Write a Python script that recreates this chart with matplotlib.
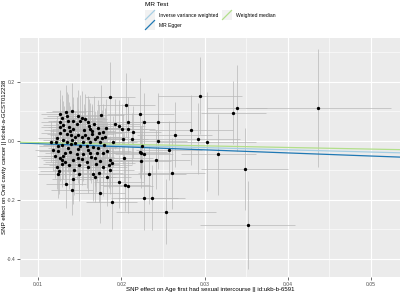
import matplotlib
matplotlib.use("Agg")
import matplotlib.pyplot as plt
from matplotlib.lines import Line2D
from matplotlib.patches import Rectangle
import numpy as np

plt.rcParams['font.family'] = ['Liberation Sans', 'DejaVu Sans']

# SNP effects on exposure (x) and outcome (y), with standard errors
beta_exp = [
    0.01865, 0.02053, 0.02231, 0.01751, 0.02946, 0.03394, 0.03346, 0.04367, 0.03027, 0.03166,
    0.03483, 0.03519, 0.01885, 0.01745, 0.02277, 0.02366, 0.02538, 0.02606, 0.02333, 0.01977,
    0.02049, 0.02081, 0.01405, 0.01333, 0.01496, 0.01657, 0.01679, 0.01249, 0.01244, 0.01417,
    0.02423, 0.02838, 0.02643, 0.02924, 0.02574, 0.02277, 0.02241, 0.02237, 0.02039, 0.02279,
    0.02438, 0.02084, 0.01921, 0.01975, 0.02015, 0.02083, 0.02147, 0.02023, 0.02135, 0.02439,
    0.01897, 0.02246, 0.02222, 0.01883, 0.01865, 0.01847, 0.01865,
    0.01333, 0.01414, 0.01270, 0.01477, 0.01532, 0.01564, 0.01364, 0.01426, 0.01264, 0.01297,
    0.01376, 0.01472, 0.01613, 0.01625, 0.01724, 0.01316, 0.01424, 0.01784, 0.01264, 0.01345,
    0.01393, 0.01444, 0.01484, 0.01525, 0.01564, 0.01597, 0.01645, 0.01685, 0.01705, 0.01765,
    0.01805, 0.01225, 0.01304, 0.01405, 0.01544, 0.01216, 0.01745, 0.01261,
    0.01156, 0.01285, 0.01345, 0.01396, 0.01444, 0.01505, 0.01585, 0.01625, 0.01664, 0.01184,
    0.01244, 0.01324, 0.01384, 0.01465, 0.01544, 0.01625, 0.01705, 0.01784, 0.01204, 0.01264,
    0.01324, 0.01424, 0.01525, 0.01585, 0.01685, 0.01745, 0.01432, 0.01736, 0.01225, 0.01496,
    0.01784, 0.01825, 0.01285,
    0.01288, 0.01348, 0.01505, 0.01601, 0.01673, 0.01384, 0.01553, 0.01649, 0.01733, 0.01817,
    0.01240, 0.01360, 0.01480, 0.01600, 0.01721, 0.01793, 0.01300, 0.01480, 0.01637, 0.01829,
    0.01372, 0.01600, 0.01697, 0.01288,
]
beta_out = [
    0.148, 0.122, 0.092, 0.089, 0.154, 0.112, 0.096, 0.112, -0.002, -0.045,
    -0.095, -0.285, -0.208, -0.178, -0.192, -0.192, -0.240, -0.110, -0.113, -0.138,
    -0.149, -0.153, -0.166, -0.146, -0.112, -0.113, -0.122, -0.101, -0.111, -0.129,
    -0.064, 0.037, 0.021, 0.008, -0.031, -0.045, -0.040, -0.069, -0.056, 0.063,
    0.063, 0.064, 0.057, 0.052, 0.041, 0.042, 0.031, 0.008, 0.008, 0.001,
    -0.002, -0.017, -0.036, -0.076, -0.098, -0.080, -0.064,
    0.099, 0.103, 0.092, 0.085, 0.077, 0.074, 0.069, 0.068, 0.065, 0.054,
    0.048, 0.058, 0.051, 0.041, 0.043, 0.037, 0.040, 0.032, 0.026, 0.023,
    0.020, 0.015, 0.020, 0.015, 0.020, 0.011, 0.023, 0.007, 0.015, 0.009,
    0.015, 0.011, 0.003, 0.003, -0.002, -0.002, -0.004, 0.046,
    -0.002, -0.014, -0.002, -0.010, -0.006, -0.017, -0.017, -0.002, -0.019, -0.031,
    -0.033, -0.042, -0.036, -0.044, -0.044, -0.040, -0.042, -0.042, -0.051, -0.059,
    -0.070, -0.064, -0.062, -0.070, -0.059, -0.067, -0.098, -0.110, -0.087, -0.081,
    -0.089, -0.121, -0.064,
    0.078, 0.085, 0.068, 0.064, 0.058, 0.034, 0.037, 0.034, 0.027, 0.044,
    -0.017, -0.024, -0.027, -0.031, -0.024, -0.014, -0.051, -0.058, -0.054, -0.034,
    -0.081, -0.088, -0.078, -0.078,
]
se_exp = [
    0.0030, 0.0035, 0.0040, 0.0028, 0.0050, 0.0036, 0.0039, 0.0087, 0.0059, 0.0045,
    0.0052, 0.0057, 0.0031, 0.0030, 0.0040, 0.0040, 0.0060, 0.0040, 0.0045, 0.0030,
    0.0030, 0.0030, 0.0025, 0.0024, 0.0026, 0.0027, 0.0026, 0.0023, 0.0024, 0.0025,
    0.0040, 0.0050, 0.0045, 0.0050, 0.0040, 0.0035, 0.0035, 0.0036, 0.0034, 0.0040,
    0.0040, 0.0032, 0.0030, 0.0031, 0.0030, 0.0032, 0.0033, 0.0030, 0.0031, 0.0035,
    0.0029, 0.0033, 0.0033, 0.0028, 0.0029, 0.0028, 0.0029,
    0.0024, 0.0025, 0.0023, 0.0026, 0.0027, 0.0026, 0.0024, 0.0025, 0.0023, 0.0024,
    0.0025, 0.0026, 0.0027, 0.0027, 0.0028, 0.0024, 0.0025, 0.0028, 0.0023, 0.0024,
    0.0025, 0.0025, 0.0026, 0.0026, 0.0027, 0.0027, 0.0027, 0.0028, 0.0028, 0.0028,
    0.0029, 0.0023, 0.0024, 0.0025, 0.0026, 0.0023, 0.0028, 0.0023,
    0.0022, 0.0023, 0.0024, 0.0025, 0.0025, 0.0026, 0.0027, 0.0027, 0.0028, 0.0022,
    0.0023, 0.0024, 0.0024, 0.0025, 0.0026, 0.0027, 0.0028, 0.0028, 0.0022, 0.0023,
    0.0024, 0.0025, 0.0026, 0.0027, 0.0028, 0.0028, 0.0025, 0.0028, 0.0023, 0.0026,
    0.0028, 0.0029, 0.0023,
    0.0023, 0.0024, 0.0026, 0.0027, 0.0028, 0.0024, 0.0026, 0.0027, 0.0028, 0.0029,
    0.0023, 0.0024, 0.0025, 0.0027, 0.0028, 0.0028, 0.0023, 0.0025, 0.0027, 0.0029,
    0.0024, 0.0027, 0.0028, 0.0023,
]
se_out = [
    0.120, 0.110, 0.120, 0.100, 0.130, 0.145, 0.107, 0.200, 0.168, 0.137,
    0.140, 0.150, 0.090, 0.100, 0.110, 0.110, 0.110, 0.120, 0.100, 0.090,
    0.090, 0.090, 0.085, 0.080, 0.090, 0.090, 0.085, 0.080, 0.082, 0.085,
    0.100, 0.120, 0.110, 0.120, 0.100, 0.090, 0.090, 0.092, 0.088, 0.100,
    0.100, 0.085, 0.085, 0.088, 0.085, 0.086, 0.088, 0.085, 0.086, 0.095,
    0.085, 0.088, 0.088, 0.080, 0.082, 0.080, 0.082,
    0.090, 0.095, 0.080, 0.088, 0.092, 0.085, 0.090, 0.082, 0.078, 0.080,
    0.085, 0.090, 0.092, 0.088, 0.095, 0.080, 0.085, 0.095, 0.075, 0.082,
    0.085, 0.088, 0.090, 0.086, 0.092, 0.088, 0.094, 0.096, 0.090, 0.095,
    0.098, 0.075, 0.080, 0.085, 0.088, 0.072, 0.094, 0.078,
    0.070, 0.078, 0.082, 0.085, 0.088, 0.090, 0.092, 0.090, 0.094, 0.072,
    0.076, 0.080, 0.084, 0.086, 0.090, 0.092, 0.094, 0.096, 0.074, 0.078,
    0.080, 0.084, 0.088, 0.090, 0.094, 0.096, 0.086, 0.096, 0.076, 0.086,
    0.096, 0.098, 0.078,
    0.078, 0.082, 0.088, 0.090, 0.094, 0.084, 0.088, 0.092, 0.094, 0.098,
    0.076, 0.082, 0.086, 0.090, 0.094, 0.096, 0.078, 0.086, 0.090, 0.098,
    0.082, 0.090, 0.094, 0.078,
]

# MR method estimates: (name, intercept, slope)
methods = ["Inverse variance weighted", "MR Egger", "Weighted median"]
intercepts = [0.0, 0.0015, 0.0]
slopes = [-0.75, -1.05, -0.55]
colors = ["#a6cee3", "#1f78b4", "#b2df8a"]

W, H = 400, 295
fig = plt.figure(figsize=(W / 100, H / 100), dpi=100)
fig.patch.set_facecolor("white")

ax = fig.add_axes([20 / W, 1 - 277 / H, 380 / W, (277 - 38) / H])
ax.set_facecolor("#EBEBEB")
xlim = (0.00784, 0.05348)
ylim = (-0.461, 0.349)
ax.set_xlim(*xlim)
ax.set_ylim(*ylim)

for s in ax.spines.values():
    s.set_visible(False)

ax.set_xticks([0.01, 0.02, 0.03, 0.04, 0.05])
ax.set_xticklabels(["0.01", "0.02", "0.03", "0.04", "0.05"])
ax.set_yticks([-0.4, -0.2, 0.0, 0.2])
ax.set_yticklabels(["-0.4", "-0.2", "0.0", "0.2"])
ax.set_xticks([0.015, 0.025, 0.035, 0.045], minor=True)
ax.set_yticks([-0.3, -0.1, 0.1, 0.3], minor=True)
ax.grid(which="major", color="white", linewidth=0.8)
ax.grid(which="minor", color="white", linewidth=0.4)
ax.set_axisbelow(True)
ax.tick_params(which="major", length=2, width=0.5, color="#333333", pad=1.5,
               labelsize=3.6, labelcolor="#4D4D4D")
ax.tick_params(which="minor", length=0)

bx = np.array(beta_exp)
by = np.array(beta_out)
sx = np.array(se_exp)
sy = np.array(se_out)

ax.vlines(bx, by - sy, by + sy, colors="#B8B8B8", linewidth=0.5, zorder=2)
ax.hlines(by, bx - sx, bx + sx, colors="#B8B8B8", linewidth=0.5, zorder=2)
ax.plot(bx, by, "o", color="black", markersize=2.4, markeredgewidth=0, zorder=4)

xx = np.array(xlim)
for name, b0, b1, c in zip(methods, intercepts, slopes, colors):
    ax.plot(xx, b0 + b1 * xx, color=c, linewidth=0.9, zorder=3)

# axis titles
fig.text(210 / W, 1 - 289 / H, "SNP effect on Age first had sexual intercourse || id:ukb-b-6591",
         ha="center", va="center", fontsize=4.4, color="black")
fig.text(5 / W, 1 - 157 / H, "SNP effect on Oral cavity cancer || id:ebi-a-GCST012238",
         ha="center", va="center", rotation=90, fontsize=4.4, color="black")

# legend (top)
fig.text(145 / W, 1 - 5 / H, "MR Test", ha="left", va="center", fontsize=4.6, color="black")

def key(x0, y0, c, label):
    kw, kh = 10, 10
    fig.add_artist(Rectangle((x0 / W, 1 - (y0 + kh) / H), kw / W, kh / H,
                             transform=fig.transFigure, facecolor="#F2F2F2",
                             edgecolor="none"))
    fig.add_artist(Line2D([(x0 + 0.5) / W, (x0 + kw - 0.5) / W],
                          [1 - (y0 + kh - 0.5) / H, 1 - (y0 + 0.5) / H],
                          transform=fig.transFigure, color=c, linewidth=0.9))
    fig.text((x0 + kw + 4) / W, 1 - (y0 + kh / 2) / H, label, ha="left", va="center",
             fontsize=3.6, color="black")

key(145, 10, colors[0], methods[0])
key(222, 10, colors[2], methods[2])
key(145, 20, colors[1], methods[1])

fig.savefig("out.png", dpi=100, facecolor="white")
